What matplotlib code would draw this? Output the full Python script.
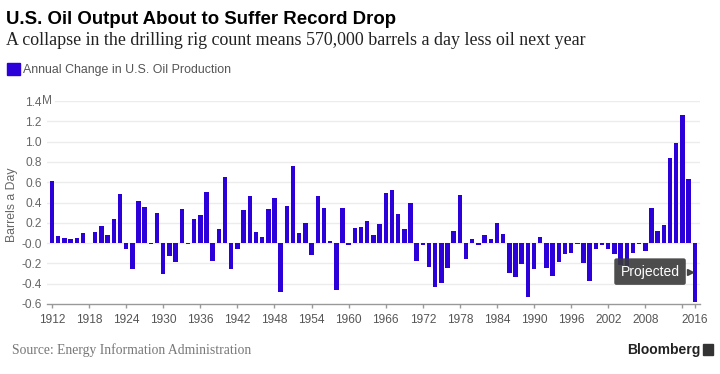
import matplotlib
matplotlib.use('Agg')
from matplotlib import pyplot as plt
from matplotlib.patches import Rectangle
import numpy as np

# Annual change in U.S. oil production, million barrels a day (2016 projected)
years = list(range(1912, 2017))
change = [0.61, 0.07, 0.05, 0.04, 0.05, 0.095, 0.0, 0.11, 0.17, 0.08,
          0.235, 0.485, -0.055, -0.255, 0.41, 0.36, -0.007, 0.30, -0.30, -0.128,
          -0.19, 0.34, -0.005, 0.235, 0.28, 0.505, -0.177, 0.14, 0.65, -0.26,
          -0.056, 0.33, 0.463, 0.11, 0.056, 0.34, 0.44, -0.48, 0.365, 0.755,
          0.095, 0.20, -0.115, 0.466, 0.348, 0.02, -0.463, 0.348, -0.02, 0.148,
          0.154, 0.213, 0.075, 0.19, 0.49, 0.52, 0.286, 0.141, 0.40, -0.174,
          -0.023, -0.236, -0.437, -0.397, -0.243, 0.115, 0.47, -0.158, 0.043, -0.022,
          0.079, 0.036, 0.194, 0.089, -0.29, -0.335, -0.21, -0.53, -0.26, 0.062,
          -0.25, -0.325, -0.187, -0.105, -0.10, -0.01, -0.20, -0.378, -0.062, -0.023,
          -0.056, -0.105, -0.22, -0.24, -0.10, -0.01, -0.079, 0.35, 0.118, 0.174,
          0.837, 0.982, 1.258, 0.63, -0.578]

ytick_vals = [-0.6, -0.4, -0.2, 0.0, 0.2, 0.4, 0.6, 0.8, 1.0, 1.2, 1.4]
ytick_labels = ['-0.6', '-0.4', '-0.2', '-0.0', '0.2', '0.4', '0.6', '0.8',
                '1.0', '1.2', '1.4']
xtick_vals = list(range(1912, 2015, 6)) + [2016]
xtick_labels = [str(y) for y in range(1912, 2015, 6)] + ['2016']
xtick_labels[-2] = ''   # 2014 label hidden (crowded by 2016)

sans = 'Liberation Sans'
serif = 'Liberation Serif'

bar_color = '#2b00d9'
grid_color = '#ececec'
label_color = '#666666'

W, H = 720, 374
fig = plt.figure(figsize=(W / 100, H / 100), dpi=100)
ax_left, ax_right, ax_top, ax_bottom = 47, 700, 101, 304
ax = fig.add_axes([ax_left / W, 1 - ax_bottom / H,
                   (ax_right - ax_left) / W, (ax_bottom - ax_top) / H])

ax.bar(years, change, width=0.72, color=bar_color, zorder=3)

ax.set_xlim(1911.19, 2016.85)
ax.set_ylim(-0.6, 1.4)

# gridlines (the 1.4 line starts after the "M")
for v in ytick_vals[1:]:
    xmin = 8 / (ax_right - ax_left) if v == 1.4 else 0
    ax.axhline(v, xmin=xmin, xmax=1, color=grid_color, lw=1, zorder=1)

ax.set_yticks(ytick_vals)
ax.set_yticklabels(ytick_labels, fontsize=8.6, color=label_color, family=sans)
ax.tick_params(axis='y', length=0, pad=3.6)
ax.text(-5 / (ax_right - ax_left), 1.4, 'M', transform=ax.get_yaxis_transform(),
        ha='left', va='center', fontsize=8.6, color=label_color, family=sans)

ax.set_xticks(xtick_vals)
ax.set_xticklabels(xtick_labels, fontsize=8.6, color='#555555', family=sans)
ax.tick_params(axis='x', length=3, width=1, color='#999999', pad=4)

for s in ['top', 'right', 'left']:
    ax.spines[s].set_visible(False)
ax.spines['bottom'].set_color('#999999')
ax.spines['bottom'].set_linewidth(1)

# "Projected" callout
px_year = 1912 + (650 - 52) / 6.18
px_val = (243 - 271.5) / 101.5
ax.text(px_year, px_val, 'Projected', ha='center', va='center', color='white',
        fontsize=10, family=sans, zorder=5,
        bbox=dict(boxstyle='round,pad=0.45,rounding_size=0.15', fc='#3a3a3a',
                  ec='none', alpha=0.9))
ax.plot([1912 + (689.5 - 52) / 6.18], [px_val], marker='>', ms=4,
        color='#3a3a3a', alpha=0.9, zorder=5, clip_on=False)

# y label
fig.text(12 / W, 1 - 205 / H, 'Barrels a Day', rotation=90, ha='center', va='center',
         fontsize=8.8, color=label_color, family=sans)

# titles
fig.text(6 / W, 1 - 24.5 / H, 'U.S. Oil Output About to Suffer Record Drop',
         ha='left', va='baseline', fontsize=13.4, weight='bold', color='#000000',
         family=sans)
fig.text(6 / W, 1 - 45 / H,
         'A collapse in the drilling rig count means 570,000 barrels a day less oil next year',
         ha='left', va='baseline', fontsize=12.9, color='#222222', family=serif)

# legend
fig.patches.append(Rectangle((7 / W, 1 - 75 / H), 13 / W, 12 / H,
                             transform=fig.transFigure, color=bar_color))
fig.text(23 / W, 1 - 73 / H, 'Annual Change in U.S. Oil Production',
         ha='left', va='baseline', fontsize=8.9, color='#555555', family=sans)

# footer
fig.text(12 / W, 1 - 354 / H, 'Source: Energy Information Administration',
         ha='left', va='baseline', fontsize=9.8, color='#777777', family=serif)
fig.text(700 / W, 1 - 354 / H, 'Bloomberg', ha='right', va='baseline',
         fontsize=10, weight='bold', color='#222222', family=sans)
fig.patches.append(Rectangle((703 / W, 1 - 355 / H), 10 / W, 11 / H,
                             transform=fig.transFigure, color='#333333'))

fig.savefig('out.png', dpi=100)
